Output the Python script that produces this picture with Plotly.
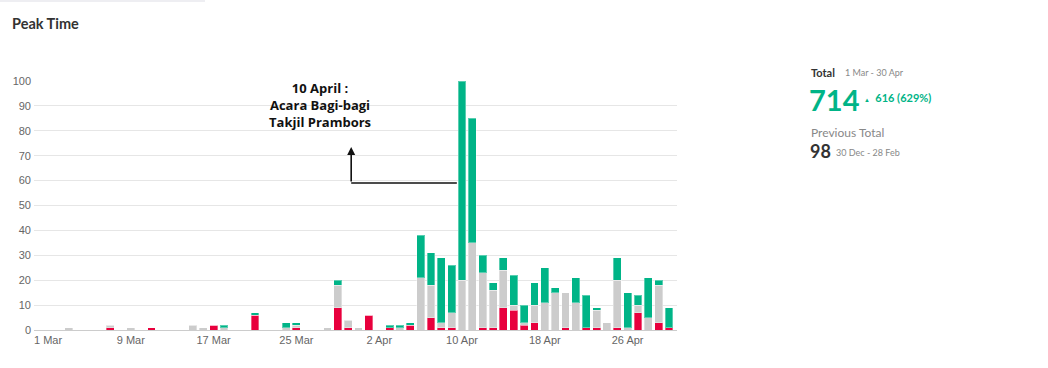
import plotly.graph_objects as go
import pandas as pd

# Days with data (1 Mar 2023 - 30 Apr 2023)
dates = pd.date_range("2023-03-01", "2023-04-30", freq="D").strftime("%Y-%m-%d").tolist()

# values per day: negative (red), neutral (grey), positive (green)
red_vals = [0,0,0,0,0,0,1,0,0,0,1,0,0,0,0,0,2,0,0,0,6,0,0,0,1,0,0,0,9,1,0,6,0,1,0,2,
            0,5,1,1,0,0,1,1,9,8,2,3,0,0,1,0,1,1,0,1,0,7,0,3,1]
grey_vals = [0,0,1,0,0,0,1,0,1,0,0,0,0,0,2,1,0,1,0,0,0,0,0,1,1,0,0,1,9,3,1,0,0,0,1,0,
             21,13,2,6,20,35,22,15,15,2,1,7,11,15,14,11,0,7,3,19,1,3,5,15,0]
green_vals = [0,0,0,0,0,0,0,0,0,0,0,0,0,0,0,0,0,1,0,0,1,0,0,2,1,0,0,0,2,0,0,0,0,1,1,1,
              17,13,26,19,80,50,7,3,5,12,7,9,14,2,0,10,13,1,0,9,14,4,16,2,8]

tick_vals = ["2023-03-01", "2023-03-09", "2023-03-17", "2023-03-25",
             "2023-04-02", "2023-04-10", "2023-04-18", "2023-04-26"]
tick_text = ["1 Mar", "9 Mar", "17 Mar", "25 Mar", "2 Apr", "10 Apr", "18 Apr", "26 Apr"]

RED = "#e8003d"
GREY = "#cccccc"
GREEN = "#00b487"
DAY_MS = 86400000

fig = go.Figure()
for name, vals, col in [("Negative", red_vals, RED), ("Neutral", grey_vals, GREY),
                        ("Positive", green_vals, GREEN)]:
    fig.add_trace(go.Bar(
        x=dates, y=vals, name=name, width=0.76 * DAY_MS,
        marker=dict(color=col, line=dict(color="rgba(255,255,255,0.35)", width=1)),
        hoverinfo="x+y+name",
    ))

fig.update_layout(
    barmode="stack",
    width=1048, height=368,
    margin=dict(l=34, r=371, t=81, b=38),
    paper_bgcolor="white", plot_bgcolor="white",
    showlegend=False,
    font=dict(family="Liberation Sans, Arial, sans-serif", size=11, color="#666666"),
)
fig.update_xaxes(
    type="date",
    range=["2023-02-27T15:30", "2023-04-30T18:30"],
    tickvals=tick_vals, ticktext=tick_text,
    showgrid=False, showline=True, linecolor="#cccccc", linewidth=1,
    ticks="", tickfont=dict(size=11, color="#666666"),
)
fig.update_yaxes(
    range=[0, 100], dtick=10,
    showgrid=True, gridcolor="#e6e6e6", gridwidth=1,
    zeroline=False, ticks="", ticklabelstandoff=2,
    tickfont=dict(size=11, color="#666666"),
)

def px_x(px):
    return (px - 34) / 643.0

def px_y(py):
    return (330 - py) / 249.0

ann = []
ann.append(dict(text="<b>Peak Time</b>", x=px_x(10), y=px_y(23), xref="paper", yref="paper",
                xanchor="left", yanchor="middle", showarrow=False,
                font=dict(family="Lato, sans-serif", size=14.5, color="#333333")))
ann.append(dict(text="<b>10 April :<br>Acara Bagi-bagi<br>Takjil Prambors</b>",
                x=px_x(320), y=px_y(105), xref="paper", yref="paper",
                xanchor="center", yanchor="middle", showarrow=False, align="center",
                font=dict(family="Open Sans, sans-serif", size=13, color="#111111")))
# arrow
ann.append(dict(text="", x="2023-03-30T07:00", y=73.5, ax="2023-03-30T07:00", ay=59,
                xref="x", yref="y", axref="x", ayref="y", showarrow=True,
                arrowhead=2, arrowsize=1, arrowwidth=1.6, arrowcolor="#111111"))
# right panel
ann.append(dict(text="<b>Total</b>", x=px_x(809), y=px_y(72), xref="paper", yref="paper",
                xanchor="left", yanchor="middle", showarrow=False,
                font=dict(family="Lato, sans-serif", size=11, color="#333333")))
ann.append(dict(text="1 Mar - 30 Apr", x=px_x(843), y=px_y(72), xref="paper", yref="paper",
                xanchor="left", yanchor="middle", showarrow=False,
                font=dict(family="Lato, sans-serif", size=9, color="#888888")))
ann.append(dict(text="<b>714</b>", x=px_x(807), y=px_y(99), xref="paper", yref="paper",
                xanchor="left", yanchor="middle", showarrow=False,
                font=dict(family="Lato, sans-serif", size=29, color=GREEN)))
ann.append(dict(text="<b><span style='font-size:6px'>▲</span>  616 (629%)</b>", x=px_x(862), y=px_y(98),
                xref="paper", yref="paper", xanchor="left", yanchor="middle", showarrow=False,
                font=dict(family="Lato, sans-serif", size=11, color=GREEN)))
ann.append(dict(text="Previous Total", x=px_x(809), y=px_y(132), xref="paper", yref="paper",
                xanchor="left", yanchor="middle", showarrow=False,
                font=dict(family="Lato, sans-serif", size=12, color="#888888")))
ann.append(dict(text="<b>98</b>", x=px_x(808), y=px_y(151), xref="paper", yref="paper",
                xanchor="left", yanchor="middle", showarrow=False,
                font=dict(family="Lato, sans-serif", size=18, color="#333333")))
ann.append(dict(text="30 Dec - 28 Feb", x=px_x(834), y=px_y(152), xref="paper", yref="paper",
                xanchor="left", yanchor="middle", showarrow=False,
                font=dict(family="Lato, sans-serif", size=9, color="#888888")))
fig.update_layout(annotations=ann)

# connector line from the 10 April bar to the arrow
fig.add_shape(type="line", x0="2023-03-30T07:00", y0=59, x1="2023-04-09T12:00", y1=59,
              xref="x", yref="y", line=dict(color="#111111", width=1.5))
# faint top border strip
fig.add_shape(type="line", x0=px_x(0), x1=px_x(205), y0=px_y(1), y1=px_y(1),
              xref="paper", yref="paper", line=dict(color="#eeeef2", width=2))

fig.write_html("out.html", config={"displayModeBar": False},
               post_script="document.body.style.margin='0';document.body.style.overflow='hidden';")
